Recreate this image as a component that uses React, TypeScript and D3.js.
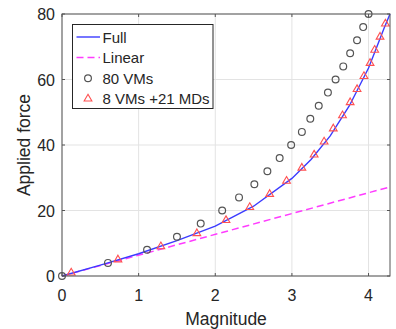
import React from "react";
import * as d3 from "d3";

// values
const fullX = [0, 0.5, 1, 1.5, 2, 2.5, 3, 3.25, 3.5, 3.75, 4, 4.1, 4.2, 4.28];
const fullY = [0, 3.3, 6.8, 10.8, 15.2, 21.3, 29.8, 35.6, 42.8, 52, 63.5, 69.5, 75.5, 80];

const linearX = [0, 4.28];
const linearY = [0, 27.2];

const vmX = [0, 0.6, 1.11, 1.5, 1.81, 2.09, 2.31, 2.51, 2.68, 2.84, 2.99, 3.13, 3.24, 3.35, 3.47, 3.57, 3.67, 3.76, 3.85, 3.93, 4.0];
const vmY = [0, 4, 8, 12, 16, 20, 24, 28, 32, 36, 40, 44, 48, 52, 56, 60, 64, 68, 72, 76, 80];

const mdX = [0.12, 0.73, 1.29, 1.76, 2.14, 2.45, 2.71, 2.93, 3.13, 3.29, 3.42, 3.54, 3.66, 3.76, 3.85, 3.94, 4.02, 4.08, 4.15, 4.22];
const mdY = [1, 5, 9, 13, 17, 21, 25, 29, 33, 37, 41, 45, 49, 53, 57, 61, 65, 69, 73, 77];

const xTicks = [0, 1, 2, 3, 4];
const yTicks = [0, 20, 40, 60, 80];
const legendLabels = ["Full", "Linear", "80 VMs", "8 VMs +21 MDs"];

const W = 396;
const H = 329;
const m = { left: 62, right: 6, top: 14, bottom: 53 };
const font = "'Liberation Sans', Arial, sans-serif";

export default function App() {
  const x = d3.scaleLinear().domain([0, 4.28]).range([m.left, W - m.right]);
  const y = d3.scaleLinear().domain([0, 80]).range([H - m.bottom, m.top]);

  const line = d3
    .line<[number, number]>()
    .x((d) => x(d[0]))
    .y((d) => y(d[1]));
  const full = fullX.map((v, i) => [v, fullY[i]] as [number, number]);
  const linear = linearX.map((v, i) => [v, linearY[i]] as [number, number]);
  const tri = d3.symbol().type(d3.symbolTriangle).size(26)()!;

  const axisCol = "#555";
  const textCol = "#262626";
  const blue = "#3b3bff";
  const magenta = "#ff3cff";
  const red = "#ff5050";
  const gray = "#555";

  const x0 = x.range()[0], x1 = x.range()[1];
  const y0 = y.range()[0], y1 = y.range()[1];

  // legend
  const lg = { x: 72.5, y: 24.5, w: 140.5, h: 84 };
  const rowY = (i: number) => lg.y + 12.5 + i * 20.6;

  return (
    <svg width={W} height={H} style={{ position: "absolute", left: 0, top: 0, background: "#fff" }}>
      {/* grid */}
      {xTicks.map((t) => (
        <line key={"gx" + t} x1={x(t)} x2={x(t)} y1={y0} y2={y1} stroke="#e3e3e3" strokeWidth={1} />
      ))}
      {yTicks.map((t) => (
        <line key={"gy" + t} x1={x0} x2={x1} y1={y(t)} y2={y(t)} stroke="#e3e3e3" strokeWidth={1} />
      ))}

      {/* series */}
      <path d={line(linear)!} fill="none" stroke={magenta} strokeWidth={1.5} strokeDasharray="7,4" />
      <path d={line(full)!} fill="none" stroke={blue} strokeWidth={1.4} />
      {vmX.map((v, i) => (
        <circle key={"c" + i} cx={x(v)} cy={y(vmY[i])} r={3.4} fill="none" stroke={gray} strokeWidth={1.2} />
      ))}
      {mdX.map((v, i) => (
        <path key={"t" + i} d={tri} transform={`translate(${x(v)},${y(mdY[i])})`} fill="none" stroke={red} strokeWidth={1.1} />
      ))}

      {/* box + ticks */}
      <rect x={x0} y={y1} width={x1 - x0} height={y0 - y1} fill="none" stroke={axisCol} strokeWidth={1} />
      {xTicks.map((t) => (
        <g key={"tx" + t}>
          <line x1={x(t)} x2={x(t)} y1={y0} y2={y0 - 3} stroke={axisCol} />
          <line x1={x(t)} x2={x(t)} y1={y1} y2={y1 + 3} stroke={axisCol} />
          <text x={x(t)} y={y0 + 25} textAnchor="middle" fontFamily={font} fontSize={16} fill={textCol}>
            {t}
          </text>
        </g>
      ))}
      {yTicks.map((t) => (
        <g key={"ty" + t}>
          <line x1={x0} x2={x0 + 3} y1={y(t)} y2={y(t)} stroke={axisCol} />
          <line x1={x1} x2={x1 - 3} y1={y(t)} y2={y(t)} stroke={axisCol} />
          <text x={x0 - 7} y={y(t) + 6} textAnchor="end" fontFamily={font} fontSize={16} fill={textCol}>
            {t}
          </text>
        </g>
      ))}

      {/* axis labels */}
      <text x={(x0 + x1) / 2} y={325} textAnchor="middle" fontFamily={font} fontSize={17.5} fill={textCol}>
        Magnitude
      </text>
      <text
        transform={`translate(30,${(y0 + y1) / 2}) rotate(-90)`}
        textAnchor="middle"
        fontFamily={font}
        fontSize={17.5}
        fill={textCol}
      >
        Applied force
      </text>

      {/* legend */}
      <rect x={lg.x} y={lg.y} width={lg.w} height={lg.h} fill="#fff" stroke={textCol} strokeWidth={1} />
      {legendLabels.map((l, i) => (
        <g key={l}>
          {i === 0 && <line x1={76.5} x2={100} y1={rowY(i)} y2={rowY(i)} stroke={blue} strokeWidth={1.4} />}
          {i === 1 && (
            <line x1={76.5} x2={100} y1={rowY(i)} y2={rowY(i)} stroke={magenta} strokeWidth={1.5} strokeDasharray="7,4" />
          )}
          {i === 2 && <circle cx={88} cy={rowY(i)} r={3.4} fill="none" stroke={gray} strokeWidth={1.2} />}
          {i === 3 && (
            <path d={tri} transform={`translate(88,${rowY(i)})`} fill="none" stroke={red} strokeWidth={1.1} />
          )}
          <text x={102.5} y={rowY(i) + 5.5} fontFamily={font} fontSize={15} fill={textCol}>
            {l}
          </text>
        </g>
      ))}
    </svg>
  );
}
